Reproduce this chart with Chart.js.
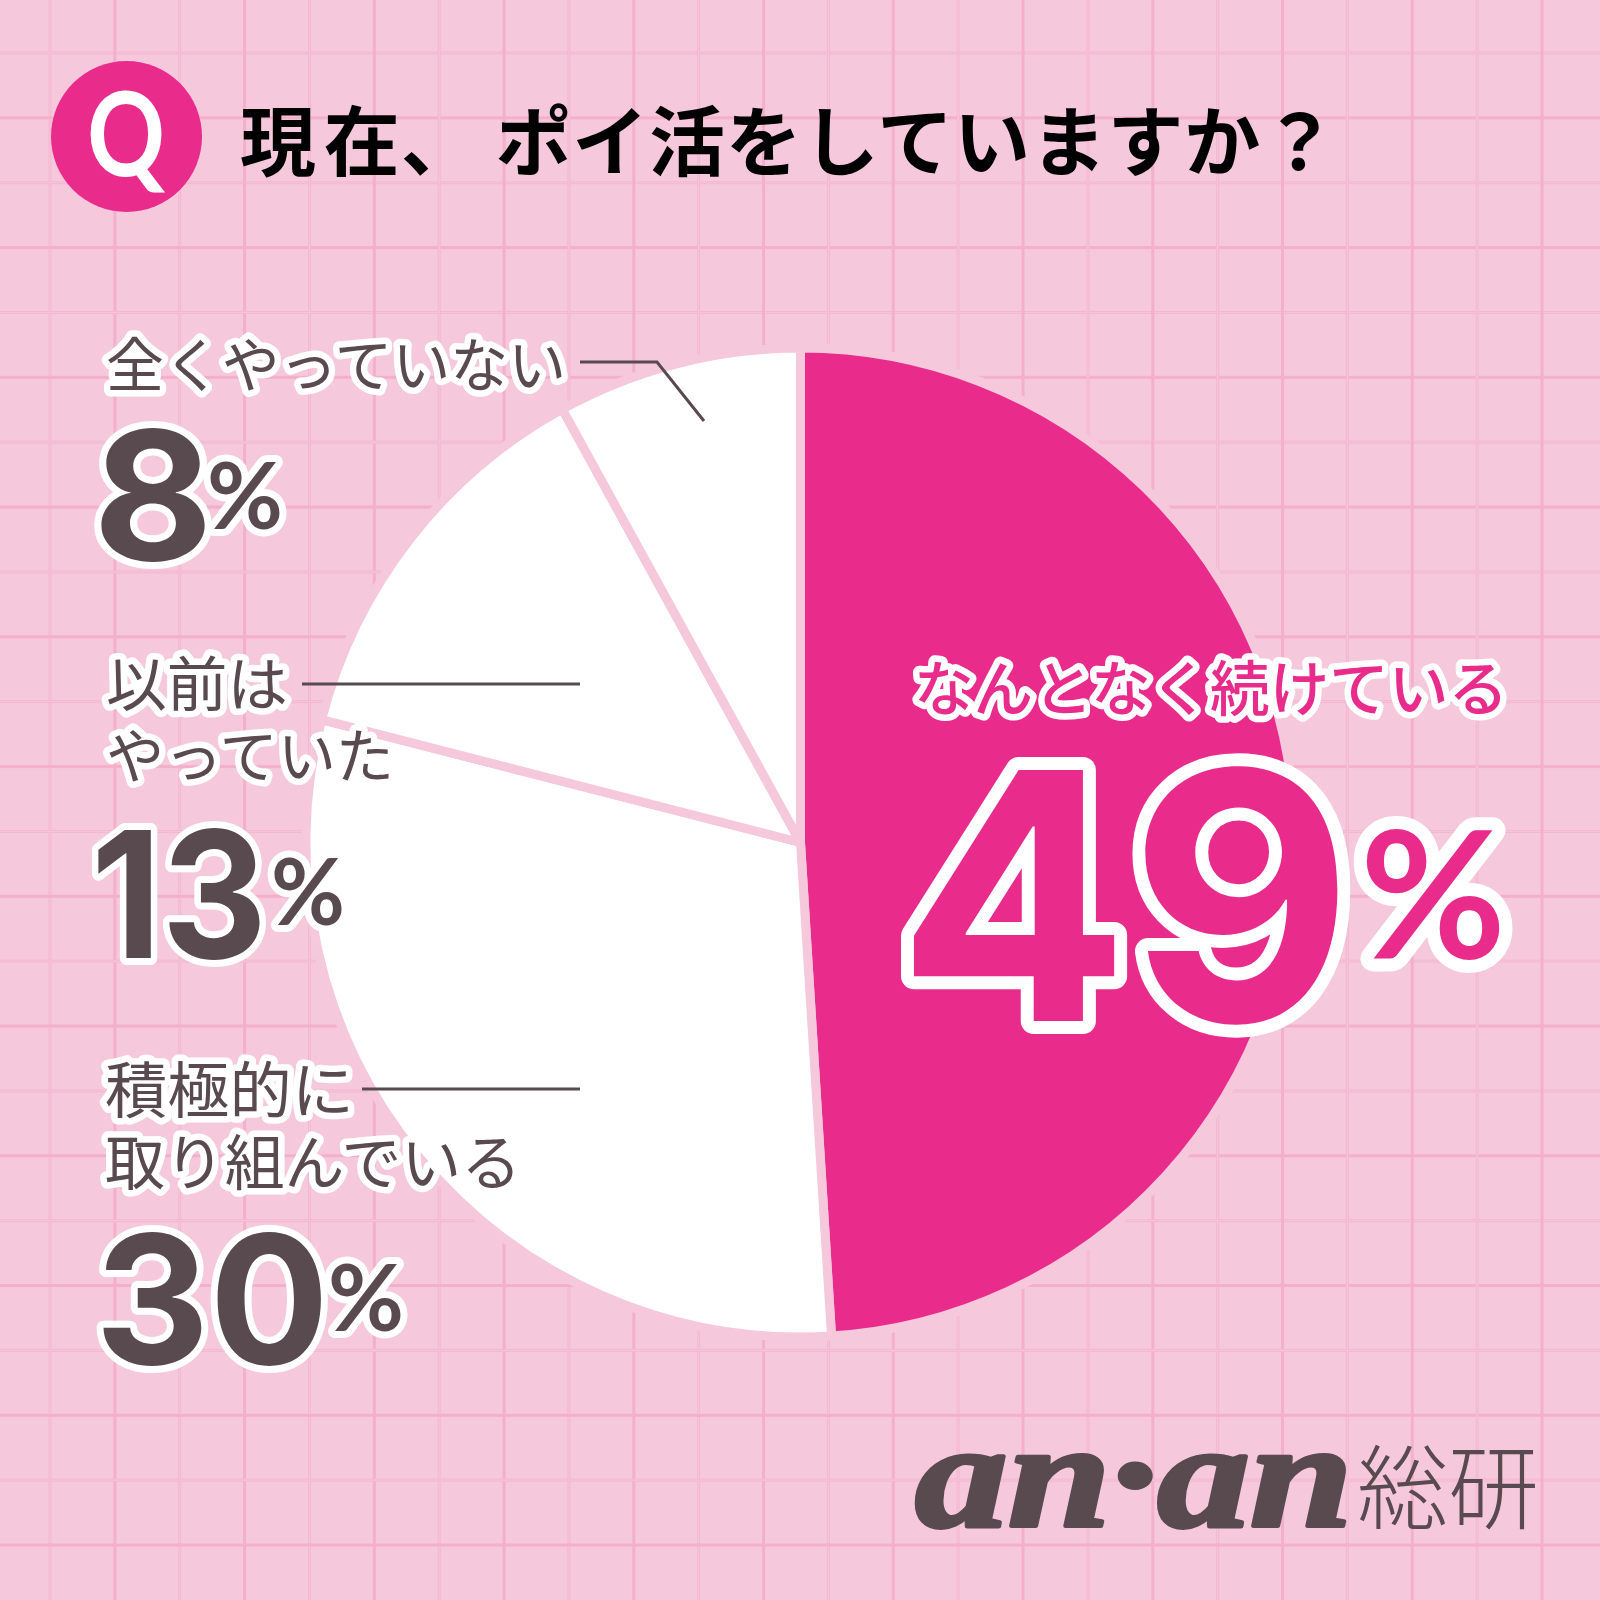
<!DOCTYPE html>
<html lang="ja"><head><meta charset="utf-8">
<script src="https://cdn.jsdelivr.net/npm/chart.js@4/dist/chart.umd.js"></script>
<style>
html,body{margin:0;padding:0;background:#F5C8DC}
#wrap{position:relative;width:1600px;height:1600px;overflow:hidden}
#c{position:absolute;left:0;top:0}
#ov{position:absolute;left:0;top:0}
text{paint-order:stroke fill;stroke-linejoin:round;stroke-linecap:round}
</style></head><body>
<div id="wrap"><canvas id="c" width="1600" height="1600"></canvas>
<svg id="ov" width="1600" height="1600" xmlns="http://www.w3.org/2000/svg"></svg></div>
<script>
const categories = ["なんとなく続けている","積極的に取り組んでいる","以前はやっていた","全くやっていない"];
const values = [49,30,13,8];
const sliceColors = ["#E92C8B","#FFFFFF","#FFFFFF","#FFFFFF"];
const titleText = "現在、ポイ活をしていますか？";
const labelLines = [["なんとなく続けている"],["積極的に","取り組んでいる"],["以前は","やっていた"],["全くやっていない"]];

const BG="#F5C8DC", DARK="#584A4F", PINK="#E92C8B";
const CJK="'Noto Sans CJK JP'", NUM="Inter, 'Open Sans', sans-serif", PCT="Lato, Inter, sans-serif";

const gridPlugin={id:'paper',beforeDraw(chart){
  const g=chart.ctx;g.save();g.fillStyle=BG;g.fillRect(0,0,1600,1600);
  const step=64.87;
  for(let k=0;k<25;k++){
    const x=50+k*step,y=53+k*step,pale=k%2===0;
    g.fillStyle=pale?"#F4B7D1":"#F4AFCB";
    g.fillRect(x-1.5,0,3,1600);g.fillRect(0,y-1.5,1600,3);
    if(pale){g.fillStyle="#F6C5DB";g.fillRect(x-.5,0,1,1600);g.fillRect(0,y-.5,1600,1);}
  }
  g.restore();
}};

new Chart(document.getElementById('c'),{type:'pie',plugins:[gridPlugin],
 data:{labels:categories,datasets:[{data:values,backgroundColor:sliceColors,borderColor:BG,borderWidth:9,borderAlign:'center'}]},
 options:{responsive:false,animation:false,radius:494.5,layout:{padding:{left:1,top:85}},
  plugins:{legend:{display:false},tooltip:{enabled:false},title:{display:false}}}});

const NS="http://www.w3.org/2000/svg",ov=document.getElementById('ov');
function el(tag,a,txt){const e=document.createElementNS(NS,tag);for(const k in a)e.setAttribute(k,a[k]);if(txt!=null)e.textContent=txt;ov.appendChild(e);return e;}
function T(s,x,y,size,len,o={}){
  const a={x,y,'font-size':size,'font-family':o.font||CJK,'font-weight':o.w||400,fill:o.fill||DARK};
  if(len){a.textLength=len;a.lengthAdjust=o.adj||'spacingAndGlyphs';}
  if(o.sw){a.stroke=o.stroke||'#fff';a['stroke-width']=o.sw;}
  if(o.style)a['font-style']=o.style;
  if(o.dx)a.dx=o.dx;
  if(o.ls)a['letter-spacing']=o.ls;
  return el('text',a,s);
}
// Q badge and title
el('circle',{cx:126.5,cy:136.5,r:75.5,fill:PINK});
T("Q",87,176,116,78,{font:"Lato, sans-serif",w:700,fill:'#fff'});
T(titleText,240,170,76,0,{w:700,fill:'#000',ls:0.8,dx:"0 7 0 18"});

// Leader lines
const LS={stroke:DARK,'stroke-width':3,fill:'none'};
el('polyline',{points:"580,362 657,362 704,421",...LS});
el('line',{x1:302,y1:684,x2:580,y2:684,...LS});
el('line',{x1:362,y1:1089,x2:580,y2:1089,...LS});

// Labels (grey)
const LW=400, SW=13;
T(labelLines[3][0],106,387,59,460,{w:LW,sw:SW});
T(labelLines[2][0],106,706,59,182,{w:LW,sw:SW});
T(labelLines[2][1],106,778,59,288,{w:LW,sw:SW});
T(labelLines[1][0],105,1113,61,249,{w:LW,sw:SW});
T(labelLines[1][1],105,1185,60,416,{w:LW,sw:SW});
T(labelLines[0][0],914,711,60,594,{w:500,fill:PINK,sw:SW});

// Percent numbers
const B=700,S2=14;
T(String(values[3]),93,560,179,120,{font:NUM,w:B,sw:S2});
T("%",207,529,92,76,{font:PCT,w:700,sw:S2});
T(String(values[2]),91,958,176,176,{font:NUM,w:B,sw:S2});
T("%",271,925,92,74,{font:PCT,w:700,sw:S2});
T(String(values[1]),95,1364,179,234,{font:NUM,w:B,sw:S2});
T("%",328,1331,92,76,{font:PCT,w:700,sw:S2});
T(String(values[0]),897,1021,345,456,{font:NUM,w:700,fill:PINK,sw:26});
T("%",1360,958,176,146,{font:PCT,w:700,fill:PINK,sw:26});

// Brand
T("an·an",915,1526,150,438,{font:"'Liberation Serif',serif",w:700,style:'italic',sw:4,stroke:DARK});
T("総研",1357,1522,92,182,{w:300});
</script></body></html>
